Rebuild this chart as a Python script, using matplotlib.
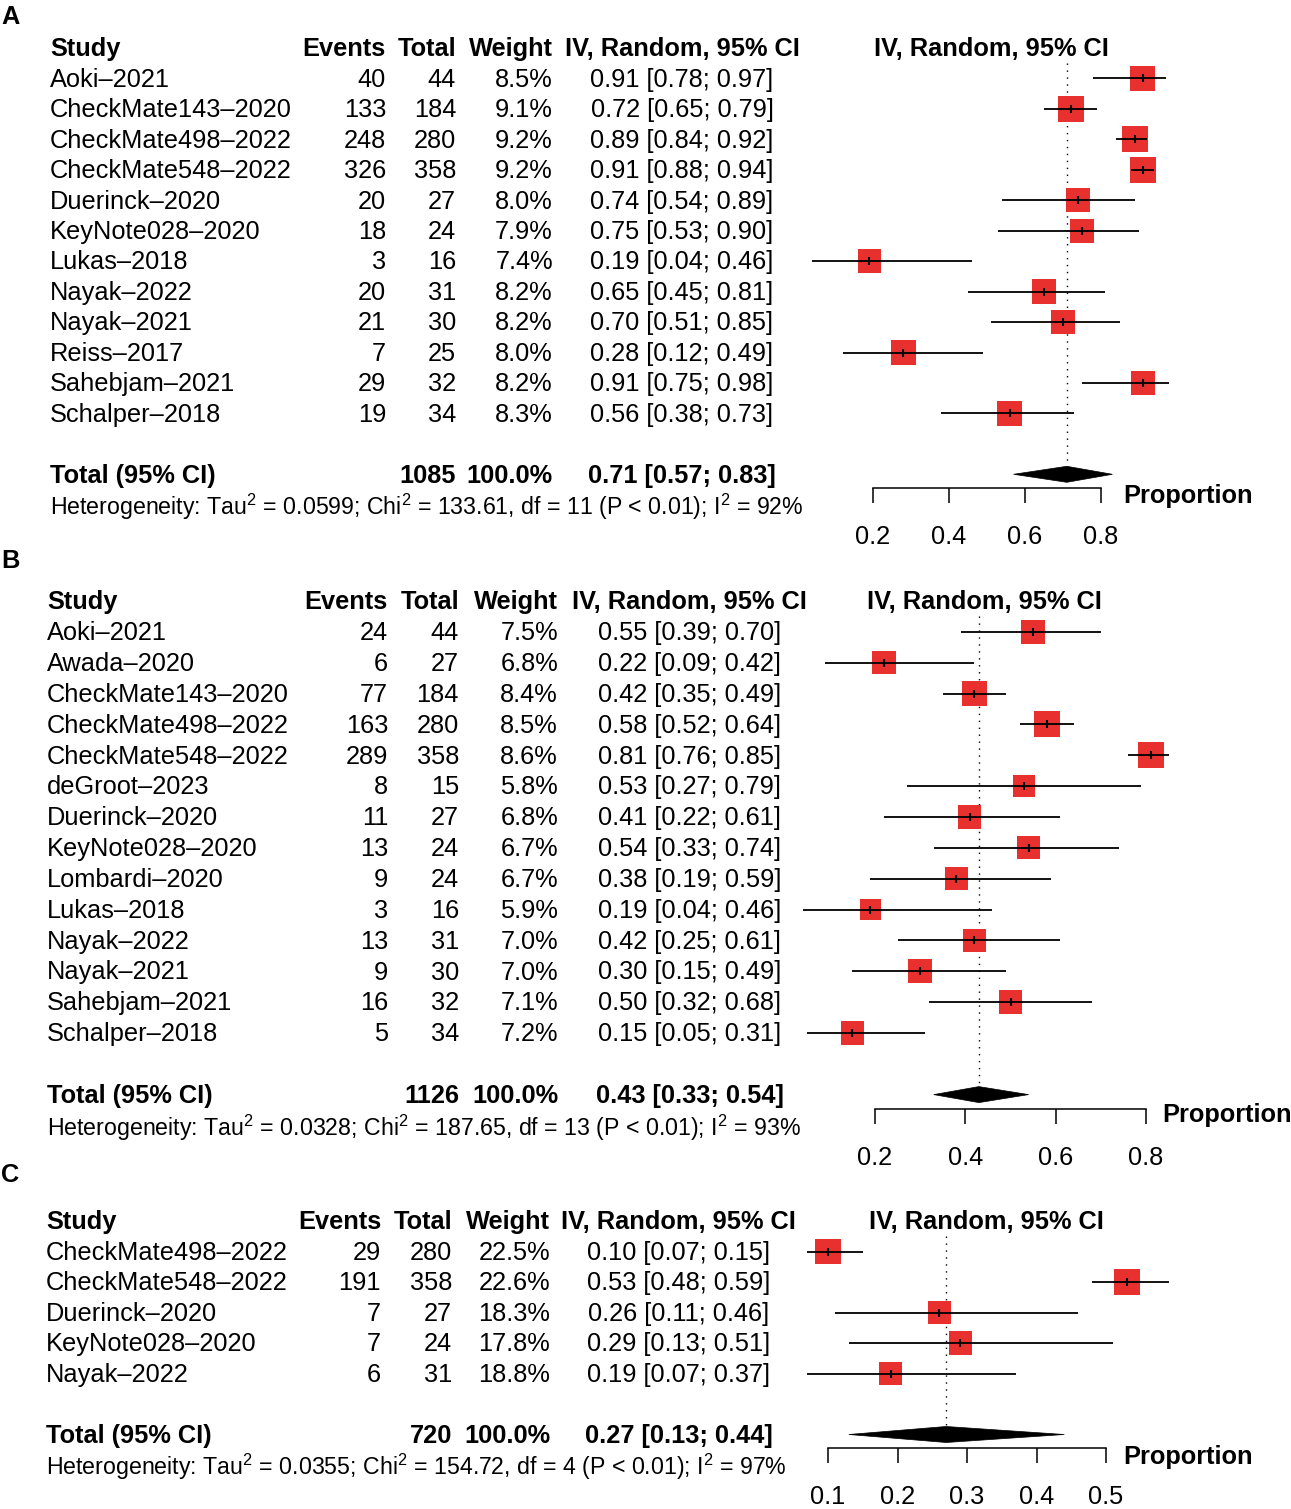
import matplotlib
matplotlib.use("Agg")
import matplotlib.pyplot as plt
import matplotlib.transforms as mtransforms
from matplotlib.patches import Polygon
import numpy as np

plt.rcParams['font.family'] = ['Liberation Sans', 'DejaVu Sans']
plt.rcParams['mathtext.fontset'] = 'custom'
plt.rcParams['mathtext.rm'] = 'Liberation Sans'

W, H = 1291, 1509
FS = 18.3
FS_HET = 16.7
RED = '#E8302F'

# ---- panel A data
a_study = ["Aoki–2021", "CheckMate143–2020", "CheckMate498–2022", "CheckMate548–2022",
           "Duerinck–2020", "KeyNote028–2020", "Lukas–2018", "Nayak–2022", "Nayak–2021",
           "Reiss–2017", "Sahebjam–2021", "Schalper–2018"]
a_events = [40, 133, 248, 326, 20, 18, 3, 20, 21, 7, 29, 19]
a_total = [44, 184, 280, 358, 27, 24, 16, 31, 30, 25, 32, 34]
a_weight = [8.5, 9.1, 9.2, 9.2, 8.0, 7.9, 7.4, 8.2, 8.2, 8.0, 8.2, 8.3]
a_est = [0.91, 0.72, 0.89, 0.91, 0.74, 0.75, 0.19, 0.65, 0.70, 0.28, 0.91, 0.56]
a_lo = [0.78, 0.65, 0.84, 0.88, 0.54, 0.53, 0.04, 0.45, 0.51, 0.12, 0.75, 0.38]
a_hi = [0.97, 0.79, 0.92, 0.94, 0.89, 0.90, 0.46, 0.81, 0.85, 0.49, 0.98, 0.73]
a_pooled = (0.71, 0.57, 0.83)
a_n = 1085
a_het = ("0.0599", "133.61", "11", "92%")
a_ticks = [0.2, 0.4, 0.6, 0.8]

# ---- panel B data
b_study = ["Aoki–2021", "Awada–2020", "CheckMate143–2020", "CheckMate498–2022",
           "CheckMate548–2022", "deGroot–2023", "Duerinck–2020", "KeyNote028–2020",
           "Lombardi–2020", "Lukas–2018", "Nayak–2022", "Nayak–2021", "Sahebjam–2021",
           "Schalper–2018"]
b_events = [24, 6, 77, 163, 289, 8, 11, 13, 9, 3, 13, 9, 16, 5]
b_total = [44, 27, 184, 280, 358, 15, 27, 24, 24, 16, 31, 30, 32, 34]
b_weight = [7.5, 6.8, 8.4, 8.5, 8.6, 5.8, 6.8, 6.7, 6.7, 5.9, 7.0, 7.0, 7.1, 7.2]
b_est = [0.55, 0.22, 0.42, 0.58, 0.81, 0.53, 0.41, 0.54, 0.38, 0.19, 0.42, 0.30, 0.50, 0.15]
b_lo = [0.39, 0.09, 0.35, 0.52, 0.76, 0.27, 0.22, 0.33, 0.19, 0.04, 0.25, 0.15, 0.32, 0.05]
b_hi = [0.70, 0.42, 0.49, 0.64, 0.85, 0.79, 0.61, 0.74, 0.59, 0.46, 0.61, 0.49, 0.68, 0.31]
b_pooled = (0.43, 0.33, 0.54)
b_n = 1126
b_het = ("0.0328", "187.65", "13", "93%")
b_ticks = [0.2, 0.4, 0.6, 0.8]

# ---- panel C data
c_study = ["CheckMate498–2022", "CheckMate548–2022", "Duerinck–2020", "KeyNote028–2020",
           "Nayak–2022"]
c_events = [29, 191, 7, 7, 6]
c_total = [280, 358, 27, 24, 31]
c_weight = [22.5, 22.6, 18.3, 17.8, 18.8]
c_est = [0.10, 0.53, 0.26, 0.29, 0.19]
c_lo = [0.07, 0.48, 0.11, 0.13, 0.07]
c_hi = [0.15, 0.59, 0.46, 0.51, 0.37]
c_pooled = (0.27, 0.13, 0.44)
c_n = 720
c_het = ("0.0355", "154.72", "4", "97%")
c_ticks = [0.1, 0.2, 0.3, 0.4, 0.5]

fig = plt.figure(figsize=(W / 100, H / 100), dpi=100)


def forest(letter, letter_y, study, events, total, weight, est, lo, hi, pooled, n, het, ticks,
           hdr, sp, x0, scale, cols, axis_px, lab_px, prop):
    # cols: study_left, events_right, total_right, weight_right, ci_center, forest_hdr_center
    top_px, bot_px = hdr - 20, lab_px + 25
    ax = fig.add_axes([0, 1 - bot_px / H, 1, (bot_px - top_px) / H])
    ax.set_xlim(-x0 / scale, (W - x0) / scale)
    ax.set_ylim((bot_px - hdr) / sp, (top_px - hdr) / sp)
    ax.patch.set_visible(False)
    tr = mtransforms.blended_transform_factory(fig.transFigure, ax.transData)
    up = 1.2 / sp  # small nudge so text sits on the row centre

    def txt(xpx, row, s, ha='left', bold=False, size=FS):
        ax.text(xpx / W, row - up, s, transform=tr, ha=ha, va='center_baseline',
                fontsize=size, fontweight='bold' if bold else 'normal')

    sl, er, tr_, wr, cc, fc = cols
    txt(sl, 0, "Study", bold=True)
    txt(er, 0, "Events", ha='right', bold=True)
    txt(tr_, 0, "Total", ha='right', bold=True)
    txt(wr, 0, "Weight", ha='right', bold=True)
    txt(cc, 0, "IV, Random, 95% CI", ha='center', bold=True)
    txt(fc, 0, "IV, Random, 95% CI", ha='center', bold=True)

    k = len(study)
    rows = np.arange(1, k + 1)
    wmax = max(weight)
    for i in range(k):
        r = rows[i]
        txt(sl, r, study[i])
        txt(er, r, str(events[i]), ha='right')
        txt(tr_, r, str(total[i]), ha='right')
        txt(wr, r, f"{weight[i]:.1f}%", ha='right')
        txt(cc, r, f"{est[i]:.2f} [{lo[i]:.2f}; {hi[i]:.2f}]", ha='center')
    side_pt = 26 * np.sqrt(np.array(weight) / wmax) * 0.72
    ax.scatter(est, rows, s=side_pt ** 2, marker='s', color=RED, edgecolors='none', zorder=2)
    ax.hlines(rows, lo, hi, color='black', lw=1.3, zorder=3)
    ax.plot(est, rows, ls='none', marker='|', ms=6, mew=1.5, color='black', zorder=4)

    rt = k + 2
    txt(sl, rt, "Total (95% CI)", bold=True)
    txt(tr_, rt, str(n), ha='right', bold=True)
    txt(wr, rt, "100.0%", ha='right', bold=True)
    txt(cc, rt, f"{pooled[0]:.2f} [{pooled[1]:.2f}; {pooled[2]:.2f}]", ha='center', bold=True)
    tau, chi, df, i2 = het
    txt(sl, rt + 1, f"Heterogeneity: Tau$^2$ = {tau}; Chi$^2$ = {chi}, df = {df} "
                    f"(P < 0.01); I$^2$ = {i2}", size=FS_HET)

    h = 8 / sp
    e, l, u = pooled
    ax.add_patch(Polygon([(l, rt), (e, rt - h), (u, rt), (e, rt + h)], closed=True,
                         facecolor='black', edgecolor='black', lw=0.5, zorder=3))
    ax.plot([e, e], [0.5, rt - h], color='black', lw=1.0, ls=(0, (1, 4)), zorder=1)

    for s_ in ['top', 'left', 'right']:
        ax.spines[s_].set_visible(False)
    ax.spines['bottom'].set_position(('data', (axis_px - hdr) / sp))
    ax.spines['bottom'].set_bounds(ticks[0], ticks[-1])
    ax.spines['bottom'].set_linewidth(1.1)
    ax.set_xticks(ticks)
    ax.set_xticklabels([f"{t:.1f}" for t in ticks])
    ax.tick_params(axis='x', length=10.8, width=1.1, pad=16, labelsize=FS)
    ax.set_yticks([])
    txt(prop[0], (prop[1] - hdr) / sp, "Proportion", bold=True)

    fig.text(1 / W, 1 - letter_y / H, letter, ha='left', va='center_baseline',
             fontsize=FS, fontweight='bold')


forest("A", 15, a_study, a_events, a_total, a_weight, a_est, a_lo, a_hi, a_pooled, a_n, a_het,
       a_ticks, hdr=48, sp=30.45, x0=797, scale=380,
       cols=(50, 386, 456, 553, 682, 991), axis_px=488, lab_px=535, prop=(1123, 495))
forest("B", 558, b_study, b_events, b_total, b_weight, b_est, b_lo, b_hi, b_pooled, b_n, b_het,
       b_ticks, hdr=601, sp=30.85, x0=784.67, scale=451.67,
       cols=(47, 388, 459, 558, 689.5, 984.5), axis_px=1109, lab_px=1157, prop=(1162, 1114))
forest("C", 1172, c_study, c_events, c_total, c_weight, c_est, c_lo, c_hi, c_pooled, c_n, c_het,
       c_ticks, hdr=1221, sp=30.5, x0=758.5, scale=695,
       cols=(46, 381, 452, 550, 678.5, 986.5), axis_px=1448, lab_px=1495, prop=(1123, 1456))

fig.savefig("out.png", dpi=100)
